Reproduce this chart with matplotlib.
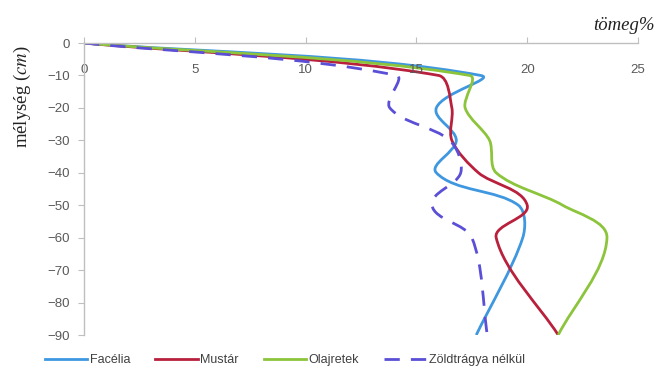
import matplotlib.pyplot as plt
import numpy as np
from matplotlib.path import Path
from matplotlib.patches import PathPatch
from matplotlib.lines import Line2D

# === Adatok (tömeg%, mélység cm) ===
melyseg = [0, -10, -20, -30, -40, -50, -60, -90]
facelia = [0, 17.9, 15.9, 16.8, 15.9, 19.6, 19.8, 17.7]
mustar = [0, 16.0, 16.6, 16.6, 17.8, 20.0, 18.6, 21.4]
olajretek = [0, 17.4, 17.2, 18.3, 18.6, 21.6, 23.6, 21.4]
zoldtragya_nelkul = [0, 14.1, 13.8, 16.5, 17.0, 15.7, 17.5, 18.2]

sorozatok = ["Facélia", "Mustár", "Olajretek", "Zöldtrágya nélkül"]
szinek = ["#3f97e0", "#b8203c", "#8cc43c", "#5a4fd6"]
stilusok = ["-", "-", "-", (0, (5.5, 4))]

# kb. képpont / egység a két tengelyen (a simításhoz)
SX, SY = 22.2, 3.24


# Excel-szerű simított vonal, képernyő-térben számolt érintőkkel
def simitott_ut(x, y, k=0.3):
    p = np.column_stack([np.array(x) * SX, np.array(y) * SY]).astype(float)
    n = len(p)

    def erinto(i):
        a = p[i - 1] if i > 0 else p[i]
        b = p[i + 1] if i < n - 1 else p[i]
        d = b - a
        return d / np.linalg.norm(d)

    verts = [p[0]]
    codes = [Path.MOVETO]
    for i in range(n - 1):
        hossz = np.linalg.norm(p[i + 1] - p[i])
        c1 = p[i] + erinto(i) * hossz * k
        c2 = p[i + 1] - erinto(i + 1) * hossz * k
        verts += [c1, c2, p[i + 1]]
        codes += [Path.CURVE4] * 3
    verts = np.array(verts) / [SX, SY]
    return Path(verts, codes)


fig = plt.figure(figsize=(6.57, 3.80), dpi=100)
ax = fig.add_axes([84 / 657, 1 - 335 / 380, (638 - 84) / 657, (335 - 43) / 380])

adatok = [facelia, mustar, olajretek, zoldtragya_nelkul]
for ertekek, szin, st in zip(adatok, szinek, stilusok):
    ut = simitott_ut(ertekek, melyseg)
    ax.add_patch(PathPatch(ut, facecolor="none", edgecolor=szin, lw=2.0, linestyle=st, capstyle="butt"))

ax.set_xlim(0, 25)
ax.set_ylim(-90, 0)
ax.set_xticks([0, 5, 10, 15, 20, 25])
ax.set_yticks(list(range(0, -91, -10)))

for s in ["bottom", "right"]:
    ax.spines[s].set_visible(False)
for s in ["top", "left"]:
    ax.spines[s].set_color("#bfbfbf")
    ax.spines[s].set_linewidth(1.0)

ax.xaxis.tick_top()
ax.tick_params(axis="x", direction="out", length=4, color="#bfbfbf", pad=-28,
               labelsize=9.5, labelcolor="#595959")
ax.tick_params(axis="y", direction="out", length=4, color="#bfbfbf", pad=6,
               labelsize=9.5, labelcolor="#595959")
for t in ax.get_xticklabels() + ax.get_yticklabels():
    t.set_fontfamily("Liberation Sans")

fig.text(22 / 657, 1 - 97 / 380, r"mélység ($\it{cm}$)", rotation=90, ha="center", va="center",
         fontsize=13.5, family="Liberation Serif", color="#222222", math_fontfamily="stix")
fig.text(655 / 657, 1 - 25 / 380, "tömeg%", ha="right", va="center", fontsize=13.5,
         family="Liberation Serif", style="italic", color="#222222")

kezelok = [Line2D([], [], color=c, lw=2.0, linestyle=s) for c, s in zip(szinek, stilusok)]
fig.legend(kezelok, sorozatok, loc="center", bbox_to_anchor=(285 / 657, 1 - 360 / 380), ncol=4,
           frameon=False, handlelength=3.4, handletextpad=0.2, columnspacing=2.0,
           labelcolor="#404040", prop={"family": "Liberation Sans", "size": 9})

plt.savefig("out.png", dpi=100)
